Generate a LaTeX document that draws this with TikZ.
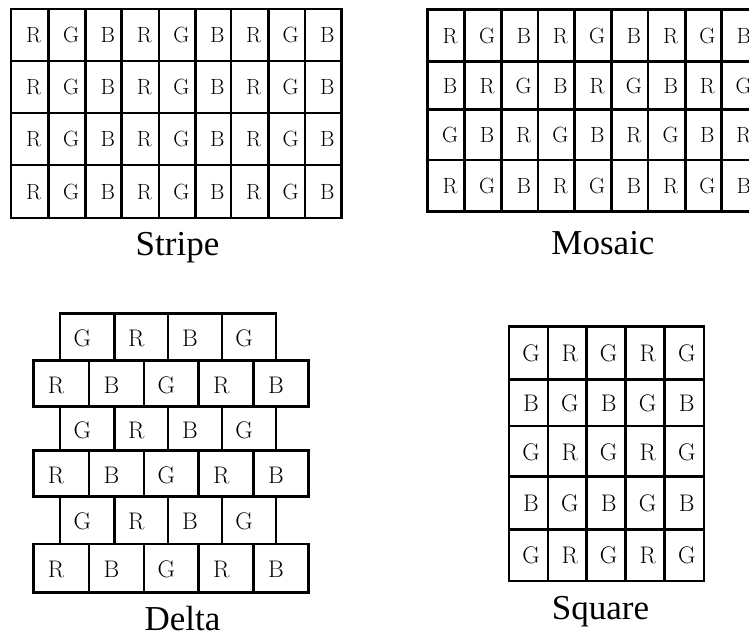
\documentclass[tikz,border=0pt]{standalone}
\usepackage{fontspec}
\newfontfamily\labelfont{Liberation Serif}
\begin{document}
\begin{tikzpicture}[x=1pt,y=-1pt,
  gridline/.style={line width=2.8pt, line cap=rect, black},
  smallcell/.style={font=\fontsize{22}{22}\selectfont, anchor=base, inner sep=0pt},
  bigcell/.style={font=\fontsize{24}{24}\selectfont, anchor=base, inner sep=0pt},
  caption/.style={font=\labelfont\fontsize{35}{35}\selectfont, anchor=base, inner sep=0pt}]
\useasboundingbox (0,0) rectangle (749,632);
\clip (0,0) rectangle (749,632);
\fill[white] (0,0) rectangle (749,632);

% ---------- Stripe ----------
\foreach \x in {11,48.3,85.7,121.7,159,195.7,231,268.3,305,341.7}
  \draw[gridline] (\x,9) -- (\x,218);
\foreach \y in {9,61,113,165,218}
  \draw[gridline] (11,\y) -- (341.7,\y);
\def\stX{{29.7,67,103.7,140.3,177.3,213.3,249.7,286.7,323.3}}
\foreach \yc [count=\r] in {35,87,139,191.5}{
  \foreach \L [count=\c] in {R,G,B,R,G,B,R,G,B}{
    \pgfmathsetmacro\xc{\stX[\c-1]+4}
    \node[smallcell] (st-\r-\c) at (\xc,\yc+7.5) {\L};
  }
}
\node[caption] (stripe) at (177.5,255) {Stripe};

% ---------- Mosaic ----------
\foreach \x in {427.3,464.7,501.3,538,574.7,611.7,648,685.3,721.3,758}
  \draw[gridline] (\x,9.3) -- (\x,211.7);
\foreach \y in {9.3,61.7,109.3,160,211.7}
  \draw[gridline] (427.3,\y) -- (758,\y);
\def\moX{{446,483,519.7,556.3,593.2,629.8,666.7,703.3,739.7}}
\foreach \yc/\row [count=\r] in {35.5/{R,G,B,R,G,B,R,G,B},85.5/{B,R,G,B,R,G,B,R,G},134.7/{G,B,R,G,B,R,G,B,R},185.9/{R,G,B,R,G,B,R,G,B}}{
  \foreach \L [count=\c] in \row{
    \pgfmathsetmacro\xc{\moX[\c-1]+4}
    \node[smallcell] (mo-\r-\c) at (\xc,\yc+7.5) {\L};
  }
}
\node[caption] (mosaic) at (603,254) {Mosaic};

% ---------- Delta ----------
\def\deY{{313.3,360.7,406.7,450.7,496.7,544,592.3}}
\foreach \r in {1,3,5}{
  \pgfmathsetmacro\ya{\deY[\r-1]}
  \pgfmathsetmacro\yb{\deY[\r]}
  \foreach \xa/\xb/\L [count=\c] in {60/114.7/G,114.7/168/R,168/222/B,222/276/G}{
    \draw[gridline] (\xa,\ya) rectangle (\xb,\yb);
    \node[bigcell] (de-\r-\c) at ({(\xa+\xb)/2-5},{(\ya+\yb)/2+9.5}) {\L};
  }
}
\foreach \r in {2,4,6}{
  \pgfmathsetmacro\ya{\deY[\r-1]}
  \pgfmathsetmacro\yb{\deY[\r]}
  \foreach \xa/\xb/\L [count=\c] in {33.3/89/R,89/144/B,144/198.7/G,198.7/253.7/R,253.7/308.3/B}{
    \draw[gridline] (\xa,\ya) rectangle (\xb,\yb);
    \node[bigcell] (de-\r-\c) at ({(\xa+\xb)/2-5},{(\ya+\yb)/2+9.5}) {\L};
  }
}
\node[caption] (delta) at (182.5,630.5) {Delta};

% ---------- Square ----------
\foreach \x in {509,548,586.7,625.7,664.7,704}
  \draw[gridline] (\x,326.7) -- (\x,581);
\foreach \y in {326.7,379.3,426,476.7,529.3,581}
  \draw[gridline] (509,\y) -- (704,\y);
\def\sqX{{528.5,567.3,606.2,645.2,684.3}}
\foreach \yc/\row [count=\r] in {353/{G,R,G,R,G},402.7/{B,G,B,G,B},451.3/{G,R,G,R,G},503/{B,G,B,G,B},555.2/{G,R,G,R,G}}{
  \foreach \L [count=\c] in \row{
    \pgfmathsetmacro\xc{\sqX[\c-1]+2.5}
    \node[bigcell] (sq-\r-\c) at (\xc,\yc+8.7) {\L};
  }
}
\node[caption] (square) at (600.5,619) {Square};
\end{tikzpicture}
\end{document}
